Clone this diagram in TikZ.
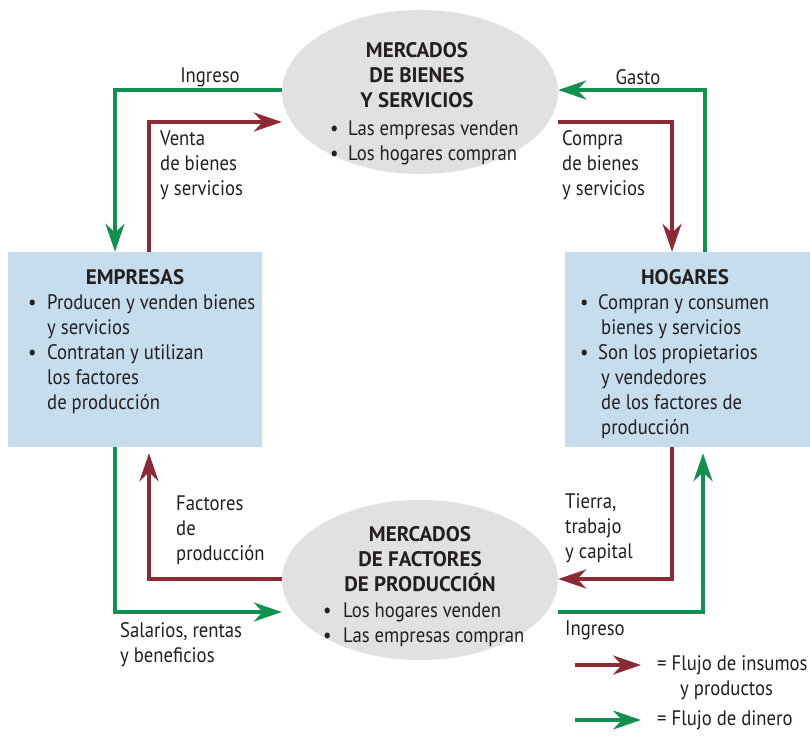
\documentclass[tikz,border=0pt]{standalone}
\usepackage{fontspec}
\setmainfont{PT Sans}
\newfontfamily\bodyfont[FakeStretch=0.89]{PT Sans}
\usetikzlibrary{arrows.meta,calc,shapes.geometric}
\definecolor{flred}{HTML}{8C2A35}
\definecolor{flgreen}{HTML}{13904F}
\definecolor{ink}{HTML}{231F20}
\definecolor{boxblue}{HTML}{C6DDEE}
\definecolor{ellgray}{HTML}{E3E0E0}
\newcommand{\bul}[1]{\makebox[#1][l]{\textbullet}}
\begin{document}
\begin{tikzpicture}[x=1pt,y=-1pt,
  lbl/.style={font=\bodyfont\fontsize{21}{25}\selectfont, align=left, inner sep=0pt, anchor=west, text=ink},
  hdr/.style={font=\bfseries\fontsize{21}{25}\selectfont, align=center, inner sep=0pt, text=ink},
  sector/.style={rectangle, draw=none, fill=boxblue, inner sep=0pt, minimum width=#1, minimum height=195pt},
  market/.style={ellipse, draw=none, fill=ellgray, inner sep=0pt, minimum width=276pt, minimum height=164pt},
  flow/.style={line width=4pt, line join=miter, -{Stealth[length=28pt,width=19pt,inset=9pt]}},
  redflow/.style={flow, draw=flred, color=flred},
  greenflow/.style={flow, draw=flgreen, color=flgreen}]
\useasboundingbox (0,0) rectangle (810,738);
\fill[white] (0,0) rectangle (810,738);

% sectors and markets
\node[sector=254pt] (emp) at (135,349.5) {};
\node[sector=245pt] (hog) at (687.5,349.5) {};
\node[market] (mb) at (420,92) {};
\node[market, minimum height=160pt] (mf) at (420,580) {};

% text in top market
\node[hdr] (mbH) at (417,75) {MERCADOS\\DE BIENES\\Y SERVICIOS};
\node[lbl] (mbB) at (330,142.5) {\bul{18pt}Las empresas venden\\\bul{18pt}Los hogares compran};

% text in bottom market
\node[hdr] (mfH) at (420,559) {MERCADOS\\DE FACTORES\\DE PRODUCCIÓN};
\node[lbl] (mfB) at (323,624.5) {\bul{20pt}Los hogares venden\\\bul{20pt}Las empresas compran};

% text in EMPRESAS
\node[hdr] (empH) at (135,277) {EMPRESAS};
\node[lbl] (empB) at (28,354) {\bul{19pt}Producen y venden bienes\\\hspace*{19pt}y servicios\\\bul{19pt}Contratan y utilizan\\\hspace*{19pt}los factores\\\hspace*{19pt}de producción};

% text in HOGARES
\node[hdr] (hogH) at (685,277) {HOGARES};
\node[lbl] (hogB) at (580,366.5) {\bul{18pt}Compran y consumen\\\hspace*{21pt}bienes y servicios\\\bul{18pt}Son los propietarios\\\hspace*{21pt}y vendedores\\\hspace*{21pt}de los factores de\\\hspace*{21pt}producción};

% flows: top left
\draw[greenflow] ([yshift=2pt]mb.west) -| ([xshift=-20pt]emp.north);
\draw[redflow] ([xshift=14pt]emp.north) |- ([yshift=-30pt]mb.west);
% flows: top right
\draw[greenflow] ([xshift=17.5pt]hog.north) |- ([yshift=2pt]mb.east);
\draw[redflow] ([yshift=-30pt]mb.east) -| ([xshift=-15.5pt]hog.north);
% flows: bottom left
\draw[greenflow] ([xshift=-20pt]emp.south) |- ([yshift=-32pt]mf.west);
\draw[redflow] ([yshift=1pt]mf.west) -| ([xshift=14pt,yshift=-6pt]emp.south);
% flows: bottom right
\draw[redflow] ([xshift=-15.5pt]hog.south) |- ([yshift=1pt]mf.east);
\draw[greenflow] ([yshift=-32pt]mf.east) -| ([xshift=15.5pt,yshift=-6pt]hog.south);

% flow labels
\node[lbl, anchor=center] (l1) at (210,77) {Ingreso};
\node[lbl] (l2) at (160,165) {Venta\\de bienes\\y servicios};
\node[lbl, anchor=center] (l3) at (638,77) {Gasto};
\node[lbl] (l4) at (562,165) {Compra\\de bienes\\y servicios};
\node[lbl] (l5) at (176,530) {Factores\\de\\producción};
\node[lbl] (l6) at (120,644.5) {Salarios, rentas\\y beneficios};
\node[lbl] (l7) at (565,528) {Tierra,\\trabajo\\y capital};
\node[lbl] (l8) at (565,630) {Ingreso};

% legend
\coordinate (r1) at (575,665);
\coordinate (r2) at (641,665);
\coordinate (g1) at (575,720);
\coordinate (g2) at (641,720);
\draw[redflow] (r1) -- (r2);
\draw[greenflow] (g1) -- (g2);
\node[lbl] (lg1) at (657,677.5) {= Flujo de insumos\\\hspace*{23pt}y productos};
\node[lbl] (lg2) at (657,720) {= Flujo de dinero};
\end{tikzpicture}
\end{document}
